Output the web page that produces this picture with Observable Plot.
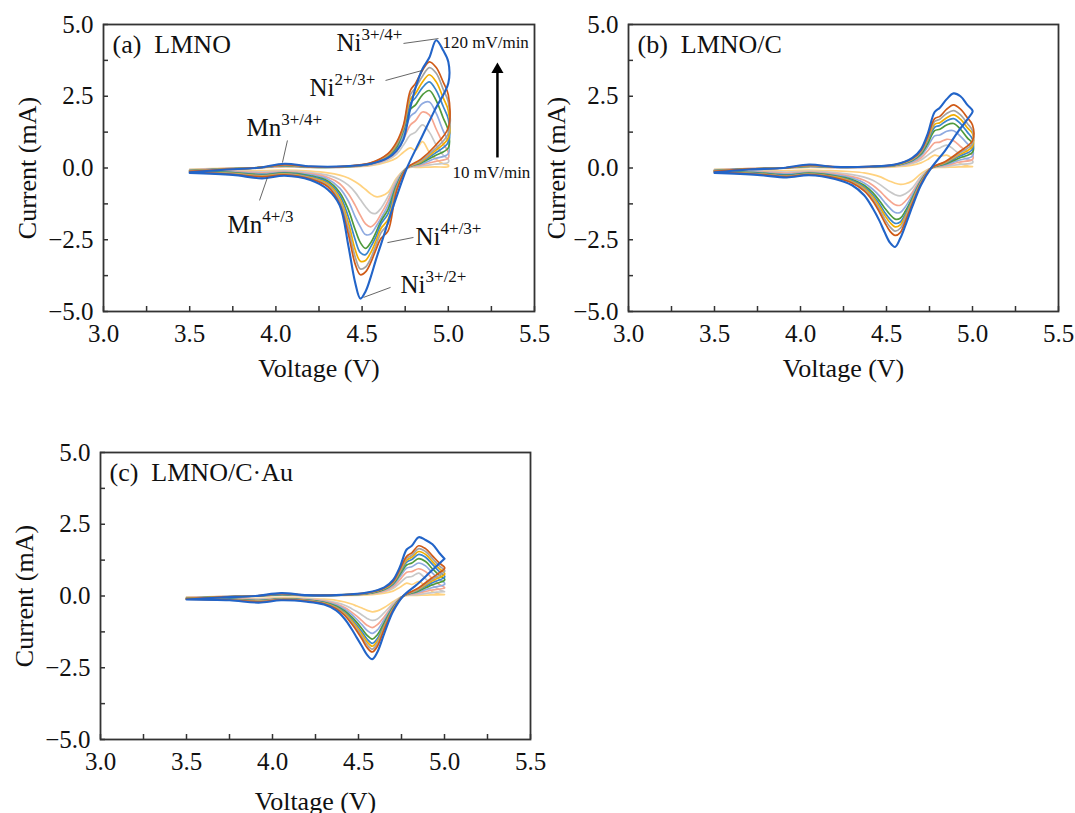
<!DOCTYPE html>
<html><head><meta charset="utf-8">
<script src="https://cdn.jsdelivr.net/npm/d3@7"></script>
<script src="https://cdn.jsdelivr.net/npm/@observablehq/plot@0.6"></script>
<style>
html,body{margin:0;padding:0;background:#fff;}
#wrap{position:relative;width:1075px;height:813px;overflow:hidden;}
.panel{position:absolute;}
</style></head><body><div id="wrap"></div>
<script>
// scan rates (mV/min), inner (slow) to outer (fast)
const rates = ["10","20","30","40","50","60","70","80","100","120"];
const colors = ["#FFD27F","#C8C8C8","#F6A690","#8FAAE0","#4F9A3C","#3A86CC","#F2AE00","#A3A3A3","#D05A16","#2264C8"];

// voltage grids (V) for anodic and cathodic sweeps
const voltAnodic = [3.5,3.7,3.9,4.05,4.2,4.4,4.55,4.65,4.7,4.74,4.78,4.81,4.85,4.89,4.93,4.97,5.0];
const voltCathodic = [5.0,4.92,4.84,4.76,4.7,4.65,4.61,4.58,4.55,4.52,4.49,4.46,4.42,4.37,4.3,4.2,4.05,3.92,3.75,3.5];

// (a) LMNO currents (mA)
const lmnoAnodic = [
 [-0.05,-0.01,0.01,0.04,0.02,0.03,0.08,0.22,0.35,0.55,0.7,0.62,0.92,0.55,0.3,0.15,0.1],
 [-0.06,-0.02,0.01,0.05,0.02,0.03,0.1,0.28,0.48,0.8,1.15,1.25,1.5,1.25,0.8,0.45,0.3],
 [-0.07,-0.02,0.01,0.06,0.03,0.04,0.12,0.33,0.58,1.0,1.5,1.65,1.95,1.85,1.35,0.85,0.55],
 [-0.08,-0.03,0.01,0.07,0.03,0.04,0.13,0.37,0.65,1.15,1.8,1.95,2.25,2.3,1.9,1.3,0.9],
 [-0.09,-0.03,0.01,0.08,0.03,0.04,0.14,0.4,0.72,1.3,2.05,2.2,2.55,2.7,2.35,1.75,1.3],
 [-0.1,-0.04,0.01,0.09,0.04,0.05,0.15,0.42,0.78,1.35,2.25,2.45,2.8,3.0,2.7,2.15,1.7],
 [-0.1,-0.04,0.01,0.1,0.04,0.05,0.16,0.45,0.82,1.4,2.4,2.6,3.0,3.25,3.0,2.45,2.0],
 [-0.11,-0.04,0.01,0.11,0.04,0.05,0.17,0.48,0.85,1.45,2.55,2.8,3.2,3.5,3.3,2.75,2.3],
 [-0.12,-0.05,0.01,0.12,0.05,0.06,0.18,0.5,0.9,1.5,2.7,2.95,3.4,3.7,3.5,3.0,2.55],
 [-0.15,-0.06,0.01,0.15,0.06,0.06,0.15,0.35,0.6,1.0,2.1,2.8,3.45,3.85,4.45,4.1,3.7]
];
const lmnoCathodic = [
 [0.05,0.04,0.02,0.0,-0.35,-0.85,-0.98,-1.0,-0.9,-0.75,-0.6,-0.48,-0.35,-0.25,-0.17,-0.11,-0.07,-0.09,-0.07,-0.06],
 [0.2,0.13,0.06,0.0,-0.4,-1.0,-1.4,-1.58,-1.55,-1.35,-1.1,-0.85,-0.6,-0.4,-0.25,-0.16,-0.1,-0.13,-0.1,-0.08],
 [0.35,0.22,0.1,0.0,-0.48,-1.15,-1.6,-1.9,-2.05,-1.95,-1.65,-1.3,-0.9,-0.55,-0.32,-0.2,-0.13,-0.17,-0.12,-0.09],
 [0.5,0.32,0.13,0.0,-0.52,-1.3,-1.75,-2.05,-2.3,-2.32,-2.05,-1.7,-1.15,-0.7,-0.38,-0.23,-0.15,-0.2,-0.14,-0.1],
 [0.7,0.42,0.17,0.0,-0.6,-1.45,-1.85,-2.25,-2.6,-2.8,-2.6,-2.15,-1.45,-0.85,-0.45,-0.27,-0.17,-0.23,-0.16,-0.11],
 [0.9,0.5,0.2,0.0,-0.65,-1.6,-1.95,-2.4,-2.75,-3.02,-2.95,-2.5,-1.7,-0.95,-0.5,-0.3,-0.19,-0.25,-0.18,-0.12],
 [1.05,0.58,0.22,0.0,-0.7,-1.8,-2.1,-2.55,-2.95,-3.22,-3.25,-2.85,-1.9,-1.05,-0.55,-0.33,-0.2,-0.27,-0.19,-0.13],
 [1.2,0.65,0.25,0.0,-0.75,-1.95,-2.25,-2.7,-3.15,-3.45,-3.52,-3.1,-2.1,-1.15,-0.6,-0.35,-0.22,-0.29,-0.2,-0.14],
 [1.4,0.75,0.3,0.0,-0.8,-2.2,-2.45,-2.85,-3.3,-3.62,-3.72,-3.35,-2.3,-1.25,-0.65,-0.38,-0.24,-0.31,-0.22,-0.15],
 [2.95,2.0,1.0,0.0,-1.0,-1.9,-2.65,-3.2,-3.8,-4.3,-4.55,-4.0,-2.7,-1.3,-0.75,-0.42,-0.27,-0.36,-0.24,-0.17]
];

// (b) LMNO/C currents (mA)
const lmnocAnodic = [
 [-0.05,-0.02,0.0,0.02,0.01,0.02,0.04,0.1,0.18,0.3,0.45,0.4,0.45,0.3,0.15,0.08,0.05],
 [-0.06,-0.02,0.0,0.03,0.02,0.03,0.06,0.16,0.28,0.45,0.62,0.7,0.8,0.65,0.45,0.3,0.25],
 [-0.07,-0.02,0.0,0.04,0.02,0.03,0.07,0.2,0.35,0.6,0.88,0.9,1.0,0.95,0.75,0.55,0.45],
 [-0.08,-0.03,0.0,0.05,0.02,0.03,0.08,0.23,0.42,0.75,1.12,1.15,1.28,1.3,1.1,0.85,0.65],
 [-0.09,-0.03,0.0,0.06,0.03,0.04,0.09,0.26,0.48,0.85,1.3,1.35,1.5,1.55,1.35,1.05,0.85],
 [-0.1,-0.03,0.0,0.07,0.03,0.04,0.1,0.28,0.52,0.95,1.42,1.48,1.65,1.72,1.55,1.25,1.0],
 [-0.1,-0.04,0.0,0.08,0.03,0.04,0.1,0.3,0.55,1.0,1.52,1.58,1.75,1.85,1.7,1.4,1.2],
 [-0.11,-0.04,0.0,0.09,0.03,0.04,0.11,0.31,0.57,1.05,1.62,1.7,1.9,2.0,1.85,1.55,1.3],
 [-0.12,-0.04,0.0,0.1,0.04,0.05,0.12,0.33,0.6,1.1,1.72,1.8,2.05,2.2,2.05,1.75,1.5],
 [-0.15,-0.05,0.0,0.12,0.04,0.05,0.12,0.35,0.65,1.2,1.95,2.1,2.4,2.6,2.5,2.2,2.0]
];
const lmnocCathodic = [
 [0.05,0.04,0.02,0.0,-0.2,-0.45,-0.55,-0.57,-0.53,-0.46,-0.38,-0.3,-0.23,-0.17,-0.13,-0.1,-0.07,-0.09,-0.07,-0.06],
 [0.18,0.12,0.05,0.0,-0.3,-0.7,-0.9,-0.97,-0.93,-0.83,-0.7,-0.57,-0.43,-0.32,-0.23,-0.16,-0.11,-0.14,-0.1,-0.08],
 [0.3,0.2,0.08,0.0,-0.38,-0.85,-1.15,-1.3,-1.28,-1.15,-0.98,-0.8,-0.6,-0.43,-0.3,-0.2,-0.14,-0.18,-0.13,-0.09],
 [0.42,0.27,0.11,0.0,-0.42,-0.95,-1.35,-1.55,-1.55,-1.4,-1.2,-0.98,-0.74,-0.52,-0.35,-0.24,-0.16,-0.21,-0.15,-0.1],
 [0.55,0.34,0.14,0.0,-0.45,-1.05,-1.5,-1.75,-1.78,-1.62,-1.4,-1.15,-0.86,-0.6,-0.4,-0.27,-0.18,-0.24,-0.17,-0.11],
 [0.65,0.4,0.16,0.0,-0.48,-1.1,-1.6,-1.88,-1.93,-1.78,-1.55,-1.26,-0.94,-0.66,-0.44,-0.29,-0.2,-0.26,-0.19,-0.12],
 [0.75,0.45,0.18,0.0,-0.5,-1.15,-1.68,-1.98,-2.05,-1.9,-1.65,-1.35,-1.0,-0.7,-0.47,-0.31,-0.21,-0.28,-0.2,-0.13],
 [0.85,0.5,0.2,0.0,-0.52,-1.2,-1.75,-2.1,-2.2,-2.05,-1.78,-1.45,-1.08,-0.75,-0.5,-0.33,-0.22,-0.29,-0.21,-0.14],
 [0.95,0.55,0.22,0.0,-0.55,-1.25,-1.85,-2.25,-2.35,-2.2,-1.9,-1.55,-1.15,-0.8,-0.52,-0.34,-0.23,-0.3,-0.22,-0.15],
 [1.95,1.3,0.6,0.0,-0.6,-1.35,-2.0,-2.45,-2.75,-2.6,-2.25,-1.85,-1.4,-0.95,-0.6,-0.38,-0.25,-0.33,-0.24,-0.17]
];

// (c) LMNO/C·Au currents (mA)
const lmnocauAnodic = [
 [-0.04,-0.02,0.0,0.02,0.01,0.02,0.04,0.1,0.17,0.3,0.45,0.4,0.5,0.35,0.15,0.07,0.05],
 [-0.05,-0.02,0.0,0.03,0.01,0.02,0.06,0.15,0.26,0.45,0.65,0.68,0.8,0.6,0.38,0.22,0.15],
 [-0.06,-0.02,0.0,0.04,0.02,0.03,0.07,0.18,0.32,0.56,0.83,0.85,0.95,0.85,0.6,0.4,0.3],
 [-0.07,-0.03,0.0,0.05,0.02,0.03,0.08,0.21,0.37,0.66,0.97,1.02,1.15,1.05,0.8,0.58,0.45],
 [-0.08,-0.03,0.0,0.05,0.02,0.03,0.08,0.23,0.41,0.74,1.08,1.15,1.3,1.2,0.95,0.72,0.6],
 [-0.09,-0.03,0.0,0.06,0.02,0.03,0.09,0.25,0.44,0.8,1.18,1.27,1.45,1.35,1.1,0.85,0.7],
 [-0.09,-0.03,0.0,0.07,0.03,0.04,0.1,0.26,0.46,0.84,1.25,1.35,1.55,1.45,1.2,0.95,0.8],
 [-0.1,-0.04,0.0,0.07,0.03,0.04,0.1,0.27,0.48,0.88,1.32,1.42,1.65,1.55,1.3,1.05,0.9],
 [-0.1,-0.04,0.0,0.08,0.03,0.04,0.11,0.28,0.5,0.92,1.38,1.5,1.75,1.65,1.4,1.15,1.0],
 [-0.12,-0.05,0.0,0.1,0.03,0.04,0.12,0.3,0.55,1.0,1.62,1.75,2.05,1.95,1.8,1.5,1.3]
];
const lmnocauCathodic = [
 [0.05,0.04,0.02,0.0,-0.2,-0.4,-0.52,-0.55,-0.5,-0.42,-0.35,-0.28,-0.21,-0.15,-0.11,-0.08,-0.06,-0.08,-0.06,-0.05],
 [0.15,0.11,0.05,0.0,-0.27,-0.58,-0.8,-0.85,-0.78,-0.66,-0.54,-0.44,-0.32,-0.23,-0.15,-0.1,-0.08,-0.11,-0.08,-0.06],
 [0.28,0.2,0.09,0.0,-0.33,-0.72,-1.0,-1.1,-1.02,-0.86,-0.7,-0.56,-0.4,-0.28,-0.18,-0.12,-0.09,-0.13,-0.09,-0.07],
 [0.4,0.28,0.12,0.0,-0.37,-0.82,-1.18,-1.3,-1.2,-1.0,-0.81,-0.64,-0.46,-0.31,-0.2,-0.13,-0.1,-0.15,-0.1,-0.08],
 [0.55,0.37,0.15,0.0,-0.4,-0.92,-1.35,-1.5,-1.37,-1.14,-0.92,-0.73,-0.52,-0.35,-0.22,-0.14,-0.1,-0.16,-0.11,-0.09],
 [0.65,0.44,0.18,0.0,-0.43,-1.0,-1.48,-1.65,-1.5,-1.25,-1.01,-0.8,-0.57,-0.38,-0.24,-0.15,-0.11,-0.17,-0.12,-0.09],
 [0.75,0.5,0.2,0.0,-0.45,-1.05,-1.57,-1.75,-1.6,-1.33,-1.08,-0.86,-0.61,-0.4,-0.25,-0.16,-0.12,-0.18,-0.13,-0.1],
 [0.85,0.55,0.22,0.0,-0.48,-1.1,-1.65,-1.85,-1.7,-1.42,-1.15,-0.92,-0.65,-0.42,-0.26,-0.17,-0.12,-0.19,-0.13,-0.1],
 [0.95,0.6,0.25,0.0,-0.5,-1.15,-1.75,-1.95,-1.8,-1.5,-1.22,-0.97,-0.68,-0.44,-0.27,-0.18,-0.13,-0.2,-0.14,-0.11],
 [1.3,0.85,0.4,0.0,-0.55,-1.3,-1.95,-2.2,-2.05,-1.75,-1.45,-1.15,-0.8,-0.5,-0.3,-0.2,-0.15,-0.23,-0.15,-0.12]
];

// axis ticks
const xTickMarks = [3.0,3.25,3.5,3.75,4.0,4.25,4.5,4.75,5.0,5.25,5.5];
const yTickMarks = [-5,-3.75,-2.5,-1.25,0,1.25,2.5,3.75,5];
const xTickLabels = [3.0,3.5,4.0,4.5,5.0,5.5];
const yTickLabels = [-5,-2.5,0,2.5,5];

const FONT = '"Liberation Serif","Times New Roman",serif';

function rowsFor(anodic, cathodic) {
  const rows = [];
  anodic.forEach((arr, k) => {
    arr.forEach((cur, j) => rows.push({k, v: voltAnodic[j], cur}));
    cathodic[k].forEach((cur, j) => rows.push({k, v: voltCathodic[j], cur}));
  });
  return rows;
}

// turn "Ni|3+/4+" into Ni with a superscript
function superscripts(svg) {
  const ns = "http://www.w3.org/2000/svg";
  svg.querySelectorAll("text").forEach(t => {
    if (t.children.length) return;
    const parts = t.textContent.split("|");
    if (parts.length < 2) return;
    t.textContent = "";
    const a = document.createElementNS(ns, "tspan"); a.textContent = parts[0];
    const b = document.createElementNS(ns, "tspan"); b.textContent = parts[1];
    b.setAttribute("font-size", "17"); b.setAttribute("dy", "-11");
    t.append(a, b);
  });
}

function panel(cfg) {
  const rows = rowsFor(cfg.anodic, cfg.cathodic);
  const innerW = cfg.width - cfg.ml - cfg.mr;
  const innerH = cfg.height - cfg.mt - cfg.mb;
  const marks = [
    Plot.line(rows.filter(d => d.k < 9), {x: "v", y: "cur", z: "k", stroke: d => rates[d.k], strokeWidth: 1.7, curve: "catmull-rom"}),
    Plot.line(rows.filter(d => d.k === 9), {x: "v", y: "cur", z: "k", stroke: d => rates[d.k], strokeWidth: 2.1, curve: "catmull-rom"}),
    Plot.frame({stroke: "#333", strokeWidth: 1.8}),
    Plot.tickX(xTickMarks, {x: d => d, stroke: "#333", strokeWidth: 1.5, insetTop: innerH - 5}),
    Plot.tickY(yTickMarks, {y: d => d, stroke: "#333", strokeWidth: 1.5, insetRight: innerW - 5}),
    Plot.axisX({ticks: xTickLabels, tickSize: 0, tickPadding: 13, tickFormat: d3.format(".1f"), fontSize: 25, label: null}),
    Plot.axisY({ticks: yTickLabels, tickSize: 0, tickPadding: 10, tickFormat: d3.format(".1f"), fontSize: 25, label: null}),
    Plot.text(["Voltage (V)"], {frameAnchor: "bottom", dy: cfg.xTitleDy, textAnchor: "middle", lineAnchor: "middle", fontSize: 26}),
    Plot.text(["Current (mA)"], {frameAnchor: "left", dx: cfg.yTitleDx, rotate: -90, textAnchor: "middle", lineAnchor: "middle", fontSize: 26}),
    Plot.text([cfg.title], {frameAnchor: "top-left", dx: 9, dy: 10, lineAnchor: "top", textAnchor: "start", fontSize: 26}),
    ...(cfg.extras || [])
  ];
  const svg = Plot.plot({
    width: cfg.width, height: cfg.height,
    marginLeft: cfg.ml, marginRight: cfg.mr, marginTop: cfg.mt, marginBottom: cfg.mb,
    x: {domain: [3, 5.5]},
    y: {domain: [-5, 5]},
    color: {domain: rates, range: colors},
    style: {fontFamily: FONT, fontSize: "24px", color: "#111", background: "transparent", overflow: "visible"},
    marks
  });
  superscripts(svg);
  const div = document.createElement("div");
  div.className = "panel";
  div.style.left = cfg.left + "px";
  div.style.top = cfg.top + "px";
  div.append(svg);
  document.getElementById("wrap").append(div);
}

// annotations for panel (a)
const notesA = [
  {t: "Ni|3+/4+", v: 4.351, i: 4.37},
  {t: "Ni|2+/3+", v: 4.195, i: 2.80},
  {t: "Mn|3+/4+", v: 3.829, i: 1.41},
  {t: "Mn|4+/3", v: 3.719, i: -1.97},
  {t: "Ni|4+/3+", v: 4.81, i: -2.42},
  {t: "Ni|3+/2+", v: 4.723, i: -4.06}
];
const leadersA = [
  {v1: 4.74, i1: 4.34, v2: 4.943, i2: 4.51},
  {v1: 4.636, i1: 3.05, v2: 4.85, i2: 3.40},
  {v1: 4.067, i1: 0.96, v2: 4.038, i2: 0.19},
  {v1: 3.951, i1: -0.33, v2: 3.905, i2: -1.13},
  {v1: 4.798, i1: -2.42, v2: 4.647, i2: -2.60},
  {v1: 4.665, i1: -4.16, v2: 4.508, i2: -4.51}
];
const rateLabels = [
  {t: "120 mV/min", v: 4.966, i: 4.37},
  {t: "10 mV/min", v: 5.024, i: -0.16}
];

const extrasA = [
  Plot.link(leadersA, {x1: "v1", y1: "i1", x2: "v2", y2: "i2", stroke: "#555", strokeWidth: 0.9}),
  Plot.text(notesA, {x: "v", y: "i", text: "t", textAnchor: "start", lineAnchor: "middle", fontSize: 25}),
  Plot.text(rateLabels, {x: "v", y: "i", text: "t", textAnchor: "start", lineAnchor: "middle", fontSize: 17}),
  Plot.ruleX([5.285], {x: d => d, y1: 0.35, y2: 3.3, stroke: "#000", strokeWidth: 2.5}),
  Plot.dot([5.285], {x: d => d, y: 3.43, symbol: "triangle", r: 4.5, fill: "#000", stroke: "none"})
];

panel({left: 0, top: 0, width: 545, height: 400, ml: 103, mr: 11, mt: 24, mb: 89,
  anodic: lmnoAnodic, cathodic: lmnoCathodic, title: "(a)\u00a0\u00a0LMNO", xTitleDy: 57, yTitleDx: -76, extras: extrasA});
panel({left: 530, top: 0, width: 545, height: 400, ml: 98, mr: 17, mt: 24, mb: 89,
  anodic: lmnocAnodic, cathodic: lmnocCathodic, title: "(b)\u00a0\u00a0LMNO/C", xTitleDy: 57, yTitleDx: -72});
panel({left: 0, top: 428, width: 545, height: 385, ml: 100, mr: 15, mt: 24, mb: 74,
  anodic: lmnocauAnodic, cathodic: lmnocauCathodic, title: "(c)\u00a0\u00a0LMNO/C\u00b7Au", xTitleDy: 62, yTitleDx: -76});
</script></body></html>
